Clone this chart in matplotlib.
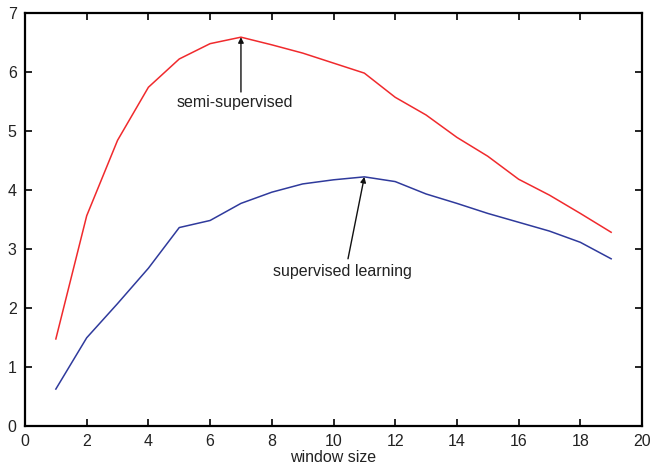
import matplotlib
matplotlib.use("Agg")
import matplotlib.pyplot as plt

window = list(range(1, 20))
semi_supervised = [1.47, 3.56, 4.84, 5.74, 6.22, 6.48, 6.59, 6.46, 6.32, 6.15,
                   5.98, 5.57, 5.27, 4.89, 4.57, 4.18, 3.91, 3.60, 3.28]
supervised = [0.62, 1.49, 2.07, 2.67, 3.36, 3.48, 3.77, 3.96, 4.10, 4.17,
              4.22, 4.14, 3.93, 3.77, 3.60, 3.45, 3.30, 3.11, 2.83]
xticks = list(range(0, 21, 2))
yticks = list(range(0, 8))

plt.rcParams['font.family'] = ['Liberation Sans', 'DejaVu Sans']

fig = plt.figure(figsize=(6.51, 4.66), dpi=100)
ax = fig.add_axes([25/651, 1-425.6/466, (642-25)/651, (425.6-13)/466])

ax.plot(window, semi_supervised, color='#f02a2d', lw=1.1)
ax.plot(window, supervised, color='#2f3a9c', lw=1.1)

ax.set_xlim(0, 20)
ax.set_ylim(0, 7)
ax.set_xticks(xticks)
ax.set_yticks(yticks)
ax.tick_params(direction='in', length=5, width=1.2, top=True, right=True,
               labelsize=11.5, labelcolor='#222222', pad=6)
for s in ax.spines.values():
    s.set_linewidth(1.6)
ax.set_xlabel('window size', fontsize=11.5, color='#222222', labelpad=1)

ap = dict(arrowstyle='-|>', color='#111111', lw=1.0, mutation_scale=8,
          shrinkA=0, shrinkB=0)
ax.text(6.79, 5.49, 'semi-supervised', ha='center', va='center',
        fontsize=11.5, color='#222222')
ax.annotate('', xy=(7, semi_supervised[6]), xytext=(7, 5.66), arrowprops=ap)
ax.text(10.28, 2.62, 'supervised learning', ha='center', va='center',
        fontsize=11.5, color='#222222')
ax.annotate('', xy=(11, supervised[10]), xytext=(10.47, 2.83), arrowprops=ap)

fig.savefig('out.png', dpi=100)
